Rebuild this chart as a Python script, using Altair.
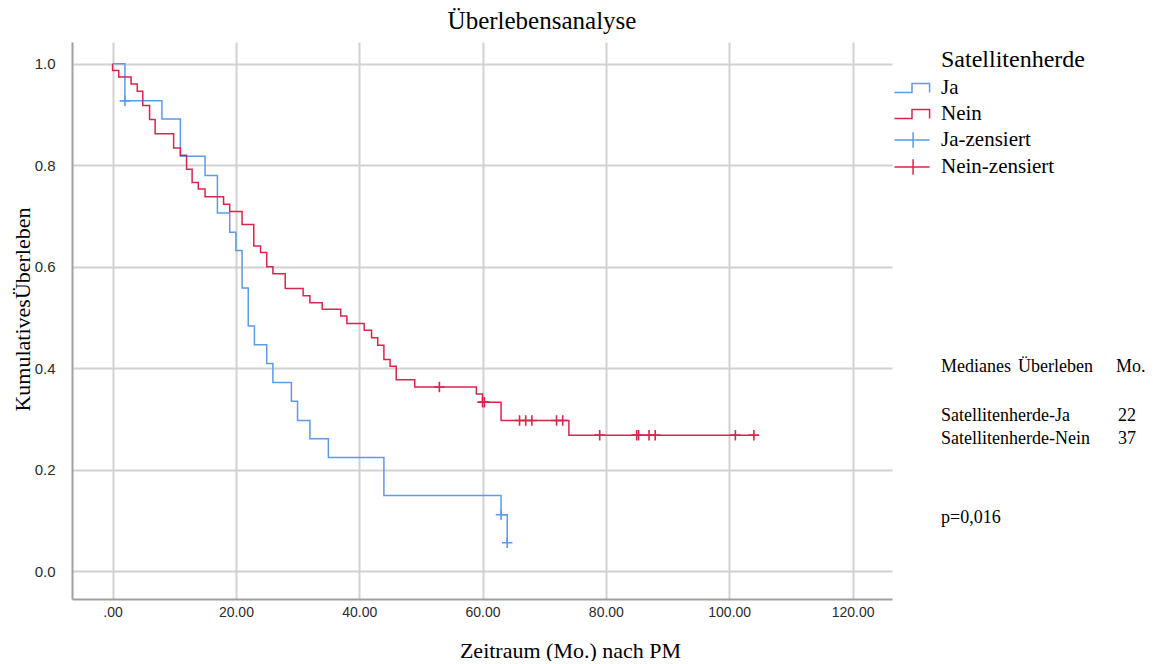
import altair as alt
import pandas as pd

BLUE = "#5b9bea"
RED = "#d7264e"

# ---- data ----
ja_time = [0, 2, 8, 11, 15, 17, 19, 20, 21, 22, 23, 25, 26, 29, 30, 32, 35, 44, 63, 64]
ja_surv = [1.0, 0.927, 0.891, 0.818, 0.780, 0.706, 0.668, 0.632, 0.558, 0.483, 0.446,
           0.409, 0.372, 0.335, 0.297, 0.261, 0.224, 0.149, 0.111, 0.056]

nein_time = [0, 0, 1, 3, 4, 4.9, 6, 6.9, 9.9, 11, 12, 12.9, 13.9, 15, 18, 19, 21, 22.9, 24, 25,
             26, 28, 30.9, 32, 34, 37, 38, 40.8, 42, 43, 44, 45, 46, 49, 59, 60, 63, 74, 104]
nein_surv = [1.0, 0.987, 0.974, 0.960, 0.946, 0.918, 0.890, 0.862, 0.834, 0.820, 0.792, 0.766,
             0.753, 0.738, 0.723, 0.709, 0.683, 0.641, 0.628, 0.600, 0.586, 0.557, 0.543, 0.529,
             0.516, 0.503, 0.488, 0.475, 0.460, 0.445, 0.417, 0.404, 0.377, 0.363, 0.349, 0.333,
             0.297, 0.268, 0.268]

ja_cens_time = [2, 63, 64]
ja_cens_surv = [0.927, 0.111, 0.056]

nein_cens_time = [53, 60, 60.3, 66, 67, 68, 72, 73, 79, 85, 85.3, 87, 88, 101, 104]
nein_cens_surv = [0.363, 0.333, 0.333, 0.297, 0.297, 0.297, 0.297, 0.297,
                  0.268, 0.268, 0.268, 0.268, 0.268, 0.268, 0.268]

legend_labels = ["Ja", "Nein", "Ja-zensiert", "Nein-zensiert"]
x_ticks = [0, 20, 40, 60, 80, 100, 120]
y_ticks = [0.0, 0.2, 0.4, 0.6, 0.8, 1.0]

title_text = "Überlebensanalyse"
x_title = "Zeitraum (Mo.) nach PM"
y_title = "KumulativesÜberleben"
legend_title = "Satellitenherde"
ann_header = ["Medianes", "Überleben", "Mo."]
ann_groups = ["Satellitenherde-Ja", "Satellitenherde-Nein"]
ann_median = ["22", "37"]
ann_p = "p=0,016"

# ---- tables ----
lines_df = pd.concat([
    pd.DataFrame({"Zeit": ja_time, "Ueberleben": ja_surv, "Gruppe": "Ja",
                  "idx": range(len(ja_time))}),
    pd.DataFrame({"Zeit": nein_time, "Ueberleben": nein_surv, "Gruppe": "Nein",
                  "idx": range(len(nein_time))}),
], ignore_index=True)

cens_df = pd.concat([
    pd.DataFrame({"Zeit": ja_cens_time, "Ueberleben": ja_cens_surv, "Gruppe": "Ja-zensiert"}),
    pd.DataFrame({"Zeit": nein_cens_time, "Ueberleben": nein_cens_surv, "Gruppe": "Nein-zensiert"}),
], ignore_index=True)

legend_df = pd.DataFrame({"Gruppe": legend_labels})

STEP = "M-1.6,0.4L0,0.4L0,-0.4L1.6,-0.4L1.6,0.4"
CENS = "M-1.6,0L1.6,0M0.1,-0.7L0.1,0.7"
PLUS = "M-1,0L1,0M0,-1L0,1"

SERIF = "Liberation Serif"
SANS = "Liberation Sans Narrow, Arial Narrow, Liberation Sans"

color_scale = alt.Scale(domain=legend_labels, range=[BLUE, RED, BLUE, RED])
shape_scale = alt.Scale(domain=legend_labels, range=[STEP, STEP, CENS, CENS])
x_scale = alt.Scale(domain=[-6.58, 126.4], nice=False, zero=False)
y_scale = alt.Scale(domain=[-0.055, 1.043], nice=False, zero=False)

common_axis = dict(grid=True, ticks=False, tickSize=0, gridColor="#d2d2d2", gridWidth=2,
                   domainColor="#a0a0a0", domainWidth=2, labelFont=SANS,
                   labelColor="#2b2b2b", titleFont=SERIF, titleFontWeight="normal",
                   titleColor="black")

x_axis = alt.Axis(title=x_title, values=x_ticks,
                  labelExpr="datum.value == 0 ? '.00' : format(datum.value, '.2f')",
                  labelPadding=6, labelFontSize=14, titleFontSize=22, titleX=498, titleY=58,
                  titleBaseline="alphabetic", titleAlign="center", **common_axis)
y_axis = alt.Axis(title=y_title, values=y_ticks, format=".1f", labelPadding=17,
                  labelFontSize=15, titleFontSize=22, titleX=-50, titleY=267, titleAngle=270,
                  titleBaseline="middle", titleAlign="center", **common_axis)

leg = alt.Legend(title=None, orient="none", legendX=828, legendY=34,
                 labelFont=SERIF, labelFontSize=21,
                 labelColor="black", symbolSize=484, symbolStrokeWidth=1.5,
                 symbolOffset=0, labelOffset=17, rowPadding=4, padding=0,
                 symbolOpacity=1)

legend_layer = alt.Chart(legend_df).mark_point(filled=False, opacity=0).encode(
    color=alt.Color("Gruppe:N", scale=color_scale, legend=leg),
    shape=alt.Shape("Gruppe:N", scale=shape_scale, legend=leg),
)

line_layer = alt.Chart(lines_df).mark_line(interpolate="step-after", strokeWidth=1.5).encode(
    x=alt.X("Zeit:Q", scale=x_scale, axis=x_axis),
    y=alt.Y("Ueberleben:Q", scale=y_scale, axis=y_axis),
    color=alt.Color("Gruppe:N", scale=color_scale, legend=None),
    order=alt.Order("idx:Q"),
)

cens_layer = alt.Chart(cens_df).mark_point(shape=PLUS, filled=False, size=110,
                                            strokeWidth=1.6, opacity=1).encode(
    x=alt.X("Zeit:Q", scale=x_scale),
    y=alt.Y("Ueberleben:Q", scale=y_scale),
    color=alt.Color("Gruppe:N", scale=color_scale, legend=None),
)


def ann(text, px, py, size=18):
    return alt.Chart(pd.DataFrame({"t": [text]})).mark_text(
        align="left", baseline="alphabetic", font=SERIF, fontSize=size, color="black"
    ).encode(text="t:N", x=alt.value(px), y=alt.value(py))


ann_layers = [
    ann(legend_title, 869, 25, size=24),
    ann(ann_header[0], 869, 330),
    ann(ann_header[1], 946, 330),
    ann(ann_header[2], 1044, 330),
    ann(ann_groups[0], 869, 379),
    ann(ann_median[0], 1046, 379),
    ann(ann_groups[1], 869, 402),
    ann(ann_median[1], 1046, 402),
    ann(ann_p, 869, 481),
]

chart = alt.layer(legend_layer, line_layer, cens_layer, *ann_layers).properties(
    width=820, height=557,
    padding={"left": 64, "top": 34, "right": 255, "bottom": 62},
    autosize=alt.AutoSizeParams(type="none"),
    title=alt.TitleParams(title_text, font=SERIF, fontSize=25, fontWeight="normal",
                          color="black", anchor="middle", frame="group", dx=60, offset=8),
).configure_view(stroke="transparent")

chart.save("out.html", embed_options={"renderer": "svg", "actions": False})
